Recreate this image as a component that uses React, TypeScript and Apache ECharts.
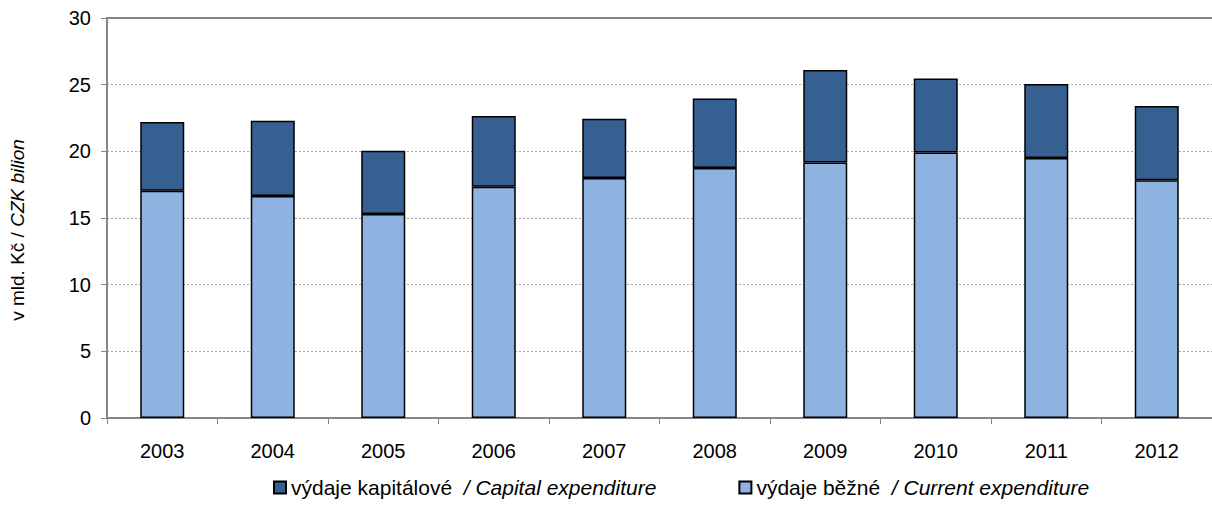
import React, { useEffect, useRef } from "react";
import * as echarts from "echarts";

const years = ["2003", "2004", "2005", "2006", "2007", "2008", "2009", "2010", "2011", "2012"];
const currentExp = [17.05, 16.65, 15.3, 17.35, 18.0, 18.75, 19.17, 19.92, 19.5, 17.83];
const capitalExp = [5.15, 5.65, 4.75, 5.3, 4.45, 5.22, 6.93, 5.55, 5.55, 5.57];
const capitalName = "výdaje kapitálové";
const capitalNameEn = "Capital expenditure";
const currentName = "výdaje běžné";
const currentNameEn = "Current expenditure";

export default function App() {
  const ref = useRef<HTMLDivElement>(null);
  useEffect(() => {
    document.body.style.margin = "0";
    const chart = echarts.init(ref.current!, null, { renderer: "svg" });
    const font = "Liberation Sans, Arial, sans-serif";
    const enMap: Record<string, string> = {
      [capitalName]: capitalNameEn,
      [currentName]: currentNameEn,
    };
    chart.setOption({
      animation: false,
      backgroundColor: "#ffffff",
      textStyle: { fontFamily: font },
      grid: { left: 104, right: 0, top: 18, bottom: 97, containLabel: false },
      legend: {
        bottom: 12,
        left: 268,
        itemGap: 82,
        itemWidth: 12,
        itemHeight: 12,
        icon: "rect",
        data: [capitalName, currentName],
        formatter: (name: string) => `{a|${name}}{b|  / ${enMap[name]}}`,
        textStyle: {
          fontFamily: font,
          fontSize: 21,
          color: "#000",
          rich: {
            a: { fontFamily: font, fontSize: 21, color: "#000" },
            b: { fontFamily: font, fontSize: 21, color: "#000", fontStyle: "italic" },
          },
        },
      },
      xAxis: [
        {
          type: "category",
          data: years,
          axisLine: { lineStyle: { color: "#868686", width: 2 } },
          axisTick: { show: true, alignWithLabel: false, length: 6, lineStyle: { color: "#868686", width: 1 } },
          axisLabel: { color: "#000", fontSize: 20, fontFamily: font, margin: 23 },
          splitLine: { show: false },
        },
        {
          type: "category",
          position: "top",
          data: years,
          axisLine: { show: true, lineStyle: { color: "#868686", width: 2 } },
          axisTick: { show: false },
          axisLabel: { show: false },
        },
      ],
      yAxis: {
        type: "value",
        min: 0,
        max: 30,
        interval: 5,
        name: `{a|v mld. Kč / }{b|CZK bilion}`,
        nameLocation: "middle",
        nameGap: 80,
        nameRotate: 90,
        nameTextStyle: {
          padding: [0, 24, 0, 0],
          rich: {
            a: { fontFamily: font, fontSize: 19, color: "#000" },
            b: { fontFamily: font, fontSize: 19, color: "#000", fontStyle: "italic" },
          },
        },
        axisLine: { show: true, lineStyle: { color: "#868686", width: 2 } },
        axisTick: { show: true, length: 6, lineStyle: { color: "#868686", width: 1 } },
        axisLabel: { color: "#000", fontSize: 20, fontFamily: font, margin: 16 },
        splitLine: { show: true, lineStyle: { color: "#a6a6a6", type: [2, 2], width: 1 } },
      },
      series: [
        {
          name: currentName,
          type: "bar",
          stack: "total",
          barWidth: 44,
          data: currentExp,
          itemStyle: { color: "#8eb3e1", borderColor: "#000", borderWidth: 1.5 },
        },
        {
          name: capitalName,
          type: "bar",
          stack: "total",
          barWidth: 44,
          data: capitalExp,
          itemStyle: { color: "#366091", borderColor: "#000", borderWidth: 1.5 },
        },
      ],
    });
    return () => chart.dispose();
  }, []);
  return <div ref={ref} style={{ width: 1212, height: 515 }} />;
}
